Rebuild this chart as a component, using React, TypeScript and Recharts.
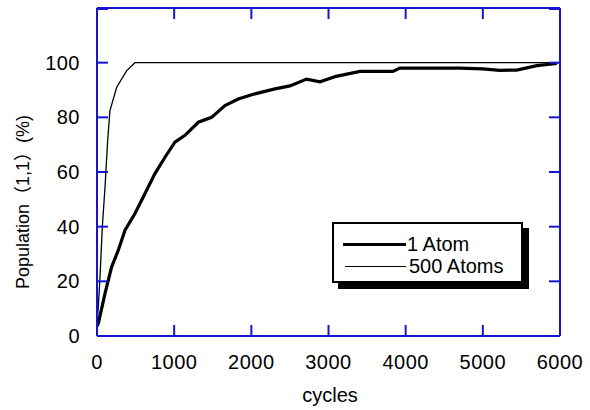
import { LineChart, Line, XAxis, YAxis } from "recharts";

const oneAtom = [
  { cycles: 0, pop: 3.5 },
  { cycles: 17, pop: 4.6 },
  { cycles: 104, pop: 15.6 },
  { cycles: 190, pop: 25.3 },
  { cycles: 276, pop: 31.4 },
  { cycles: 363, pop: 38.7 },
  { cycles: 492, pop: 44.8 },
  { cycles: 622, pop: 52.1 },
  { cycles: 751, pop: 59.4 },
  { cycles: 881, pop: 65.4 },
  { cycles: 1010, pop: 70.9 },
  { cycles: 1140, pop: 73.4 },
  { cycles: 1313, pop: 78.2 },
  { cycles: 1485, pop: 80 },
  { cycles: 1658, pop: 84.3 },
  { cycles: 1830, pop: 86.7 },
  { cycles: 2047, pop: 88.6 },
  { cycles: 2306, pop: 90.4 },
  { cycles: 2500, pop: 91.5 },
  { cycles: 2716, pop: 94 },
  { cycles: 2889, pop: 93 },
  { cycles: 3100, pop: 95 },
  { cycles: 3407, pop: 96.8 },
  { cycles: 3834, pop: 96.8 },
  { cycles: 3925, pop: 98 },
  { cycles: 4313, pop: 98 },
  { cycles: 4700, pop: 98 },
  { cycles: 5000, pop: 97.7 },
  { cycles: 5220, pop: 97.2 },
  { cycles: 5440, pop: 97.3 },
  { cycles: 5700, pop: 98.9 },
  { cycles: 5960, pop: 99.7 },
];

const fiveHundredAtoms = [
  { cycles: 0, pop: 4 },
  { cycles: 17, pop: 10.7 },
  { cycles: 39, pop: 21.6 },
  { cycles: 69, pop: 39.9 },
  { cycles: 104, pop: 54.5 },
  { cycles: 138, pop: 71.5 },
  { cycles: 168, pop: 82.5 },
  { cycles: 255, pop: 91 },
  { cycles: 385, pop: 97.1 },
  { cycles: 492, pop: 100 },
  { cycles: 6000, pop: 100 },
];

const xTicks = [0, 1000, 2000, 3000, 4000, 5000, 6000];
const yTicks = [0, 20, 40, 60, 80, 100, 120];

const blue = "#1515d0";
const font = "'Liberation Sans', Arial, 'Noto Sans CJK JP', sans-serif";
const TICK = 11;

// bottom axis: tick mark drawn inward, label below
function BottomTick(props: any) {
  const { x, y, payload } = props;
  const axisY = y - 20;
  return (
    <g>
      <line x1={x} y1={axisY} x2={x} y2={axisY - TICK} stroke={blue} strokeWidth={2} />
      <text x={x} y={axisY + 33} textAnchor="middle" fill="#000" fontSize={20} fontFamily={font} letterSpacing={0.5}>
        {payload.value}
      </text>
    </g>
  );
}

function LeftTick(props: any) {
  const { x, y, payload } = props;
  const axisX = x + 17;
  return (
    <g>
      <line x1={axisX} y1={y} x2={axisX + TICK} y2={y} stroke={blue} strokeWidth={2} />
      {payload.value !== 120 && (
        <text x={x} y={y + 7} textAnchor="end" fill="#000" fontSize={20} fontFamily={font} letterSpacing={0.5}>
          {payload.value}
        </text>
      )}
    </g>
  );
}

function TopTick(props: any) {
  const { x, y } = props;
  return <line x1={x} y1={y} x2={x} y2={y + TICK} stroke={blue} strokeWidth={2} />;
}

function RightTick(props: any) {
  const { x, y } = props;
  return <line x1={x} y1={y} x2={x - TICK} y2={y} stroke={blue} strokeWidth={2} />;
}

function YLabel() {
  return (
    <text
      x={23}
      y={202}
      transform="rotate(-90 23 202)"
      textAnchor="middle"
      dominantBaseline="central"
      fill="#000"
      fontSize={18}
      fontFamily={font}
    >
      Population（1,1）(%)
    </text>
  );
}

function XLabel() {
  return (
    <text x={330} y={402} textAnchor="middle" fill="#000" fontSize={20} fontFamily={font}>
      cycles
    </text>
  );
}

function LegendBox() {
  return (
    <div
      style={{
        position: "absolute",
        left: 332,
        top: 222,
        border: "2px solid #000",
        boxShadow: "6px 6px 0 #000",
        background: "#fff",
        width: 191,
        height: 61,
        boxSizing: "border-box",
        fontFamily: font,
        fontSize: 20,
        color: "#000",
      }}
    >
      <div style={{ position: "absolute", left: 9, top: 9, display: "flex", alignItems: "center", height: 22 }}>
        <span style={{ width: 63, height: 0, borderTop: "3px solid #000" }} />
        <span style={{ marginLeft: 1 }}>1 Atom</span>
      </div>
      <div style={{ position: "absolute", left: 11, top: 31, display: "flex", alignItems: "center", height: 22 }}>
        <span style={{ width: 61, height: 0, borderTop: "1px solid #000" }} />
        <span style={{ marginLeft: 3 }}>500 Atoms</span>
      </div>
    </div>
  );
}

export default function App() {
  return (
    <div style={{ position: "absolute", left: 0, top: 0, width: 590, height: 410, background: "#fff" }}>
      <LineChart width={590} height={410} margin={{ top: 7, right: 29, left: 0, bottom: 24 }}>
        <XAxis
          xAxisId="bottom"
          type="number"
          dataKey="cycles"
          domain={[0, 6000]}
          ticks={xTicks}
          allowDataOverflow
          height={50}
          stroke={blue}
          strokeWidth={2}
          tickLine={false}
          tickSize={0}
          tickMargin={20}
          tick={<BottomTick />}
          label={<XLabel />}
        />
        <XAxis
          xAxisId="top"
          orientation="top"
          type="number"
          dataKey="cycles"
          domain={[0, 6000]}
          ticks={xTicks}
          allowDataOverflow
          height={1}
          stroke={blue}
          strokeWidth={2}
          tickLine={false}
          tickSize={0}
          tickMargin={0}
          tick={<TopTick />}
        />
        <YAxis
          yAxisId="left"
          type="number"
          domain={[0, 120]}
          ticks={yTicks}
          allowDataOverflow
          width={97}
          stroke={blue}
          strokeWidth={2}
          tickLine={false}
          tickSize={0}
          tickMargin={17}
          tick={<LeftTick />}
          label={<YLabel />}
        />
        <YAxis
          yAxisId="right"
          orientation="right"
          type="number"
          domain={[0, 120]}
          ticks={yTicks}
          allowDataOverflow
          width={1}
          stroke={blue}
          strokeWidth={2}
          tickLine={false}
          tickSize={0}
          tickMargin={0}
          tick={<RightTick />}
        />
        <Line
          xAxisId="top"
          yAxisId="right"
          data={fiveHundredAtoms}
          dataKey="pop"
          name="500 Atoms"
          type="linear"
          stroke="#000"
          strokeWidth={1.3}
          dot={false}
          isAnimationActive={false}
        />
        <Line
          xAxisId="bottom"
          yAxisId="left"
          data={oneAtom}
          dataKey="pop"
          name="1 Atom"
          type="linear"
          stroke="#000"
          strokeWidth={3.2}
          dot={false}
          isAnimationActive={false}
        />
      </LineChart>
      <LegendBox />
    </div>
  );
}
